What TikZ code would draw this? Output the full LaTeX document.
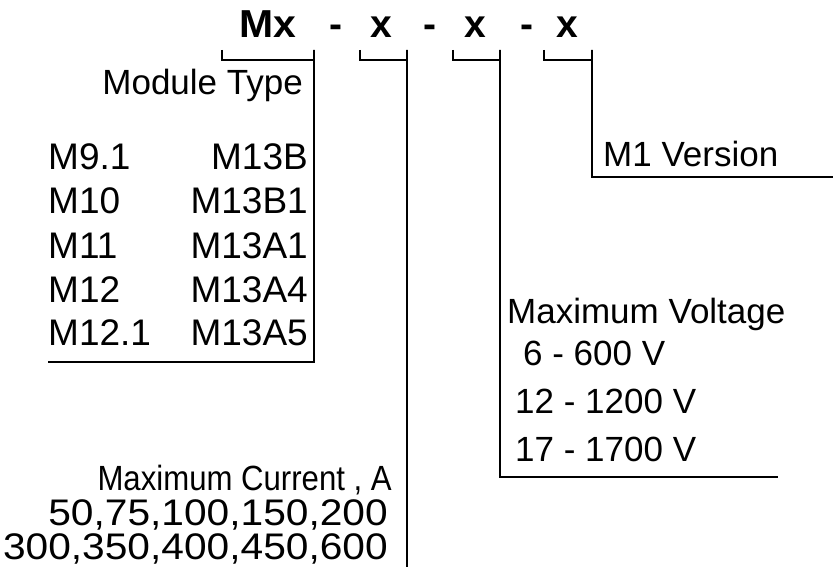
\documentclass[tikz,border=0pt]{standalone}
\usepackage{fontspec}
\setmainfont{Liberation Sans}
\begin{document}
\begin{tikzpicture}[x=1pt,y=-1pt,
  lbl/.style={inner sep=0pt,font=\fontsize{35}{40}\selectfont},
  row/.style={inner sep=0pt,font=\fontsize{37}{40}\selectfont},
  big/.style={inner sep=0pt,font=\fontsize{39}{42}\selectfont\bfseries},
  ln/.style={line width=1.5pt}]
\useasboundingbox (0,0) rectangle (833,567);
% code line
\node[big,anchor=base] (mx) at (268,38) {\scalebox{1.05}[1]{Mx}};
\node[big,anchor=base] (d1) at (336,38) {-};
\node[big,anchor=base] (x1) at (381,38) {x};
\node[big,anchor=base] (d2) at (430,38) {-};
\node[big,anchor=base] (x2) at (475,38) {x};
\node[big,anchor=base] (d3) at (527,38) {-};
\node[big,anchor=base] (x3) at (567,38) {x};
% coordinates of brackets
\coordinate (b1l) at (222,50); \coordinate (b1r) at (314,50);
\coordinate (b2l) at (360,50); \coordinate (b2r) at (407,50);
\coordinate (b3l) at (453,50); \coordinate (b3r) at (500,50);
\coordinate (b4l) at (544,50); \coordinate (b4r) at (592,50);
\coordinate (m1) at (314,362); \coordinate (m2) at (48,362);
\coordinate (c1) at (407,567);
\coordinate (v1) at (500,477); \coordinate (v2) at (778,477);
\coordinate (r1) at (592,177); \coordinate (r2) at (833,177);
\draw[ln] (b1l) -- ++(0,10) -| (b1r) -- (m1) -- (m2);
\draw[ln] (b2l) -- ++(0,10) -| (b2r) -- (c1);
\draw[ln] (b3l) -- ++(0,10) -| (b3r) -- (v1) -- (v2);
\draw[ln] (b4l) -- ++(0,10) -| (b4r) -- (r1) -- (r2);
% module type
\node[lbl,anchor=base east] (mt) at (303,95) {Module Type};
\node[row,anchor=base west] (a1) at (48,170) {M9.1};
\node[row,anchor=base west] (a2) at (48,214) {M10};
\node[row,anchor=base west] (a3) at (48,258) {M11};
\node[row,anchor=base west] (a4) at (48,302) {M12};
\node[row,anchor=base west] (a5) at (48,345) {M12.1};
\node[row,anchor=base east] (e1) at (308,170) {M13B};
\node[row,anchor=base east] (e2) at (308,214) {M13B1};
\node[row,anchor=base east] (e3) at (308,258) {M13A1};
\node[row,anchor=base east] (e4) at (308,302) {M13A4};
\node[row,anchor=base east] (e5) at (308,345) {M13A5};
% current
\node[lbl,anchor=base east] (ch) at (392,490) {\scalebox{0.89}[1]{Maximum Current , A}};
\node[row,anchor=base east] (cr1) at (388,525) {\scalebox{1.1}[1]{50,75,100,150,200}};
\node[row,anchor=base east] (cr2) at (388,559) {\scalebox{1.1}[1]{300,350,400,450,600}};
% voltage
\node[lbl,anchor=base west] (vh) at (507,323) {Maximum Voltage};
\node[lbl,anchor=base west] (vr1) at (523,365) {6 - 600 V};
\node[lbl,anchor=base west] (vr2) at (515,413) {12 - 1200 V};
\node[lbl,anchor=base west] (vr3) at (515,461) {17 - 1700 V};
% version
\node[lbl,anchor=base west] (ver) at (603,167) {M1 Version};
\end{tikzpicture}
\end{document}
